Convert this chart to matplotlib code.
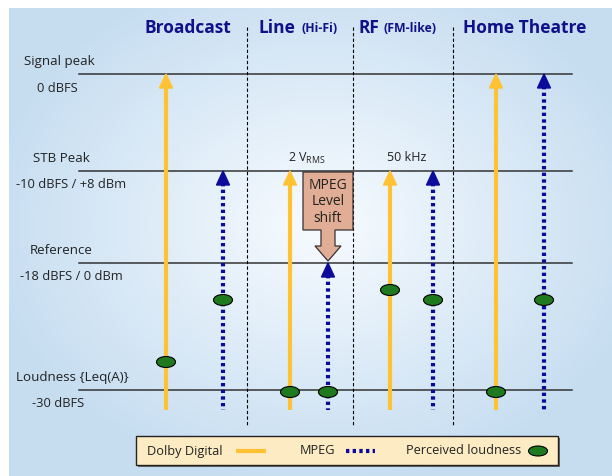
import numpy as np
import matplotlib.pyplot as plt
from matplotlib.patches import Rectangle, Polygon, Ellipse

plt.rcParams['font.family'] = ['Open Sans', 'DejaVu Sans']

# Diagram coordinates are in pixels of the 612x477 canvas (y grows downward)
channels = ['Broadcast', 'Line', 'RF', 'Home Theatre']
channel_notes = ['', '(Hi-Fi)', '(FM-like)', '']

# Dolby Digital arrows: x position, top (peak level), perceived loudness level
dd_x = [166, 290, 390, 496]
dd_top = [75, 172, 172, 75]
dd_loud = [363, 393, 291, 393]

# MPEG arrows
mpeg_x = [223, 328, 433, 544]
mpeg_top = [172, 264, 172, 75]
mpeg_loud = [301, 393, 301, 301]

arrow_bottom = 411

# reference levels
level_y = [75, 172, 264, 391]
level_names = ['Signal peak', 'STB Peak', 'Reference', 'Loudness {Leq(A)}']
level_values = ['0 dBFS', '-10 dBFS / +8 dBm', '-18 dBFS / 0 dBm', '-30 dBFS']
name_x = [24, 33, 30, 16]
value_x = [37, 16, 20, 32]

divider_x = [247, 353, 453]

DD_COL = '#ffc233'
MPEG_COL = '#0b0b9c'
HEAD_COL = '#10108a'
DOT_COL = '#1f7a1f'
TXT = '#222222'

fig = plt.figure(figsize=(6.12, 4.77), dpi=100)
ax = fig.add_axes([0, 0, 1, 1])
ax.set_xlim(0, 612)
ax.set_ylim(477, 0)
ax.axis('off')

# background panel with soft radial gradient
gx, gy = np.meshgrid(np.linspace(9, 612, 300), np.linspace(9, 477, 240))
r = np.sqrt(((gx - 320) / 330) ** 2 + ((gy - 225) / 260) ** 2)
r = np.clip(r, 0, 1)
c_in = np.array([0.97, 0.985, 1.0])
c_out = np.array([0.78, 0.87, 0.945])
img = c_in[None, None, :] * (1 - r[..., None]) + c_out[None, None, :] * r[..., None]
ax.imshow(img, extent=(9, 612, 477, 9), aspect='auto', zorder=0)

# level lines and labels
for y, nm, val, nx, vx in zip(level_y, level_names, level_values, name_x, value_x):
    ax.plot([79, 572], [y, y], color='#333333', lw=1.1, zorder=1)
    ax.text(nx, y - 13, nm, fontsize=9.6, color=TXT, va='center', ha='left')
    ax.text(vx, y + 13, val, fontsize=9.3, color=TXT, va='center', ha='left')

# dividers
for x in divider_x:
    ax.plot([x, x], [28, 428], color='black', lw=0.8, ls=(0, (3, 2)), zorder=1)

# headers
ax.text(188, 28, channels[0], fontsize=12.5, fontweight='bold', color=HEAD_COL,
        ha='center', va='center')
ax.text(259, 28, channels[1], fontsize=12.5, fontweight='bold', color=HEAD_COL,
        ha='left', va='center')
ax.text(301, 29, channel_notes[1], fontsize=8.8, fontweight='bold', color=HEAD_COL,
        ha='left', va='center')
ax.text(359, 28, channels[2], fontsize=12.5, fontweight='bold', color=HEAD_COL,
        ha='left', va='center')
ax.text(384, 29, channel_notes[2], fontsize=8.8, fontweight='bold', color=HEAD_COL,
        ha='left', va='center')
ax.text(525, 28, channels[3], fontsize=12.5, fontweight='bold', color=HEAD_COL,
        ha='center', va='center')


def head(x, y, col):
    ax.add_patch(Polygon([[x, y], [x - 6.5, y + 14], [x + 6.5, y + 14]],
                         closed=True, color=col, zorder=3))


for x, top in zip(dd_x, dd_top):
    ax.plot([x, x], [top + 12, arrow_bottom], color=DD_COL, lw=3, zorder=2,
            solid_capstyle='butt')
    head(x, top, DD_COL)

for x, top in zip(mpeg_x, mpeg_top):
    ax.plot([x, x], [top + 12, arrow_bottom], color=MPEG_COL, lw=3, zorder=2,
            ls=(0, (0.8, 0.8)), dash_capstyle='butt')
    head(x, top, MPEG_COL)

for x, y in zip(dd_x + mpeg_x, dd_loud + mpeg_loud):
    ax.add_patch(Ellipse((x, y), 19, 11, facecolor=DOT_COL, edgecolor='black',
                         lw=0.8, zorder=4))

# MPEG level shift callout
box_col = '#e2ad95'
ax.add_patch(Polygon([[303, 173], [353, 173], [353, 231], [335, 231], [335, 247],
                      [341, 247], [328, 262], [315, 247], [321, 247], [321, 231],
                      [303, 231]], closed=True, facecolor=box_col,
                     edgecolor='#333333', lw=0.9, zorder=5))
ax.text(328, 202, 'MPEG\nLevel\nshift', fontsize=10, color=TXT, ha='center',
        va='center', linespacing=1.1, zorder=6)

ax.text(307, 158, r'2 V$_{\mathregular{RMS}}$', fontsize=9, color=TXT,
        ha='center', va='center')
ax.text(407, 158, '50 kHz', fontsize=9, color=TXT, ha='center', va='center')

# legend
ax.add_patch(Rectangle((137.5, 438.5), 422, 29, facecolor='#666666', edgecolor='none',
                       zorder=6))
ax.add_patch(Rectangle((136, 437), 422, 29, facecolor='#fdebc3', edgecolor='#222222',
                       lw=1, zorder=7))
ax.text(147, 452, 'Dolby Digital', fontsize=9.2, color=TXT, va='center', zorder=8)
ax.plot([236, 266], [452, 452], color=DD_COL, lw=3, zorder=8, solid_capstyle='butt')
ax.text(300, 451, 'MPEG', fontsize=9.2, color=TXT, va='center', zorder=8)
ax.plot([346, 375], [452, 452], color=MPEG_COL, lw=3, zorder=8,
        ls=(0, (0.8, 0.8)), dash_capstyle='butt')
ax.text(406, 451, 'Perceived loudness', fontsize=9.2, color=TXT, va='center', zorder=8)
ax.add_patch(Ellipse((538, 452), 19, 10, facecolor=DOT_COL, edgecolor='black',
                     lw=0.8, zorder=8))

fig.savefig('out.png', dpi=100)
